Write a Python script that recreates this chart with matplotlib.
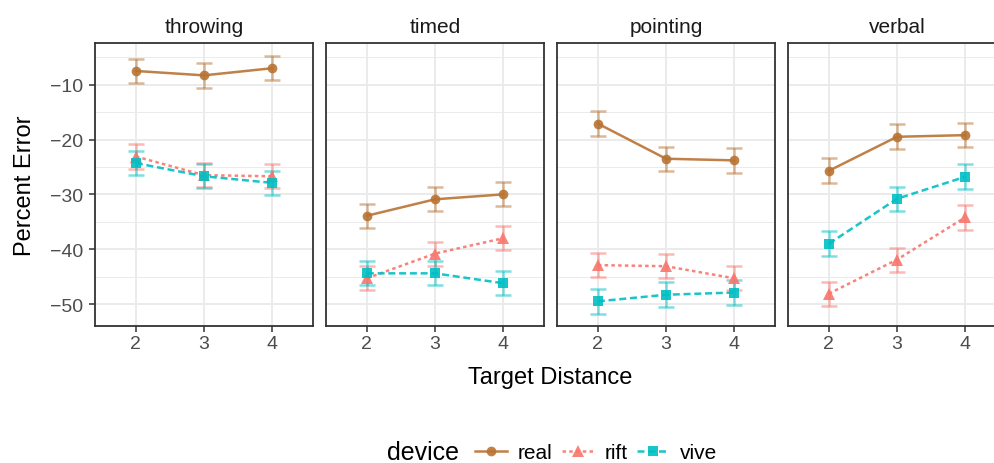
import numpy as np
import matplotlib.pyplot as plt
from matplotlib.lines import Line2D
from matplotlib.ticker import MultipleLocator

plt.rcParams['font.family'] = ['Liberation Sans', 'DejaVu Sans']

tasks = ['throwing', 'timed', 'pointing', 'verbal']
distance = [2, 3, 4]
devices = ['real', 'rift', 'vive']

# mean percent error per task (rows) and target distance (cols)
real_mean = [[-7.5, -8.3, -7.0], [-33.9, -30.9, -30.0], [-17.1, -23.5, -23.8], [-25.7, -19.5, -19.2]]
rift_mean = [[-23.1, -26.5, -26.7], [-45.3, -40.8, -38.0], [-42.9, -43.1, -45.3], [-48.1, -41.9, -34.2]]
vive_mean = [[-24.3, -26.7, -27.9], [-44.4, -44.4, -46.2], [-49.5, -48.3, -47.9], [-39.0, -30.8, -26.8]]

# standard errors
real_se = [[2.2, 2.25, 2.2], [2.2, 2.2, 2.2], [2.25, 2.2, 2.25], [2.25, 2.25, 2.2]]
rift_se = [[2.2, 2.2, 2.2], [2.2, 2.2, 2.2], [2.25, 2.2, 2.2], [2.2, 2.2, 2.25]]
vive_se = [[2.2, 2.2, 2.2], [2.2, 2.2, 2.2], [2.25, 2.25, 2.25], [2.25, 2.2, 2.25]]

colors = {'real': '#B87333', 'rift': '#F8766D', 'vive': '#00BFC4'}
styles = {'real': '-', 'rift': (0, (1.4, 1.3)), 'vive': (0, (2.8, 1.5))}
markers = {'real': ('o', 7.0), 'rift': ('^', 8.0), 'vive': ('s', 7.0)}
means = {'real': real_mean, 'rift': rift_mean, 'vive': vive_mean}
ses = {'real': real_se, 'rift': rift_se, 'vive': vive_se}

W, H = 994, 464
fig = plt.figure(figsize=(W / 100, H / 100), dpi=100)

lefts = [95, 326, 557, 788]
pw, top, bot = 218, 44, 327

for i, task in enumerate(tasks):
    ax = fig.add_axes([lefts[i] / W, 1 - bot / H, pw / W, (bot - top) / H])
    for d in devices:
        c = colors[d]
        ax.errorbar(distance, means[d][i], yerr=ses[d][i], fmt='none', ecolor=c,
                    alpha=0.5, elinewidth=1.8, capsize=5.8, capthick=1.8, zorder=2)
        m, ms = markers[d]
        ax.plot(distance, means[d][i], color=c, lw=1.8, ls=styles[d], alpha=0.9,
                marker=m, ms=ms, markeredgewidth=0, zorder=3)

    ax.set_xlim(1.4, 4.6)
    ax.set_ylim(-54.0, -2.4)
    ax.set_xticks(distance)
    ax.set_yticks([-50, -40, -30, -20, -10])
    ax.yaxis.set_minor_locator(MultipleLocator(5))
    ax.grid(True, which='major', color='#EBEBEB', lw=1.4, zorder=0)
    ax.grid(True, which='minor', axis='y', color='#EBEBEB', lw=0.7, zorder=0)
    ax.set_axisbelow(True)
    for s in ax.spines.values():
        s.set_color('#333333')
        s.set_linewidth(1.3)
    ax.tick_params(which='major', color='#333333', length=4.3, width=1.1,
                   labelcolor='#4D4D4D', labelsize=14)
    ax.tick_params(axis='x', pad=2)
    ax.tick_params(axis='y', pad=4)
    ax.tick_params(which='minor', length=0)
    if i > 0:
        ax.tick_params(axis='y', left=False, labelleft=False)

    fig.text((lefts[i] + pw / 2) / W, 1 - 32.7 / H, task, ha='center', va='baseline',
             fontsize=15, color='#1A1A1A')

fig.text(550.5 / W, 1 - 384.3 / H, 'Target Distance', ha='center', va='baseline', fontsize=17)
fig.text(25 / W, 1 - 185.5 / H, 'Percent Error', ha='center', va='center',
         rotation=90, fontsize=17)

handles = []
for d in devices:
    m, ms = markers[d]
    handles.append(Line2D([0], [0], color=colors[d], lw=1.8, ls=styles[d], alpha=0.9,
                          marker=m, ms=ms, markeredgewidth=0))
fig.text(387 / W, 1 - 460 / H, 'device', ha='left', va='baseline', fontsize=18)
fig.legend(handles, devices, ncol=3, loc='center left',
           bbox_to_anchor=(475 / W, 1 - 453.5 / H), frameon=False, fontsize=15,
           handlelength=1.55, handletextpad=0.5, columnspacing=0.45,
           borderpad=0, borderaxespad=0)

plt.savefig('out.png', dpi=100)
plt.close()
